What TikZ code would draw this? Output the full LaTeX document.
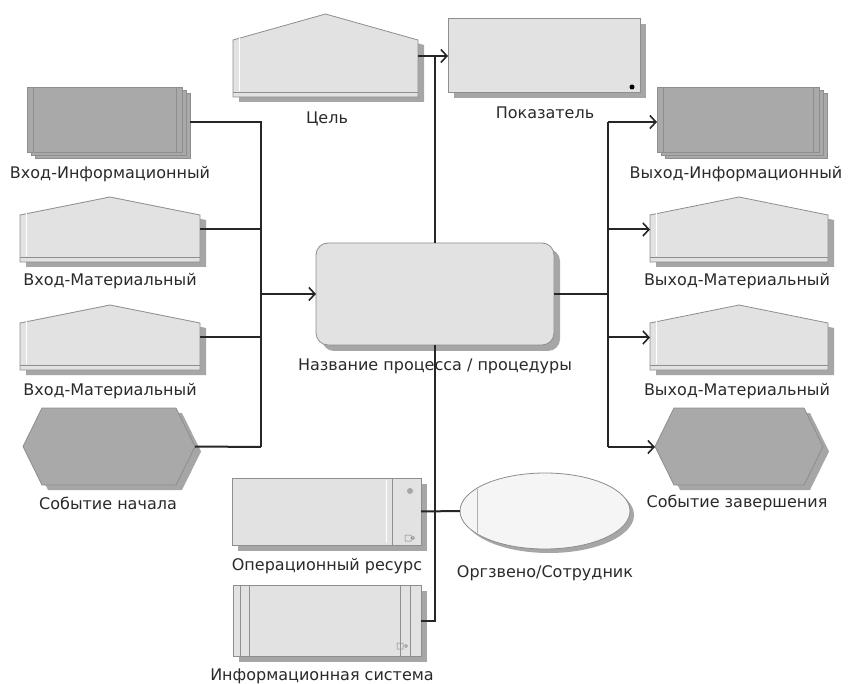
\documentclass[tikz,border=0pt]{standalone}
\usepackage{fontspec}
\setmainfont{DejaVu Sans}
\usetikzlibrary{arrows.meta,calc,shapes.geometric}
\definecolor{lightf}{HTML}{E2E2E2}
\definecolor{darkf}{HTML}{A9A9A9}
\definecolor{edgec}{HTML}{8E8E8E}
\definecolor{shadc}{HTML}{A6A6A6}
\definecolor{txtc}{HTML}{2A2A2A}
\definecolor{ellf}{HTML}{F5F5F5}
\tikzset{
  bbox/.style={inner sep=0pt,outer sep=0pt,draw=none},
  lbl/.style={text=txtc,font=\fontsize{16}{19}\selectfont,inner sep=0pt},
  conn/.style={draw=black!85,line width=2pt},
  arr/.style={conn,-{Straight Barb[length=6pt,width=13pt,line width=1.6pt]}},
  lightshape/.style={fill=lightf,draw=edgec,line width=0.8pt},
  darkshape/.style={fill=darkf,draw=edgec,line width=0.8pt},
  shd/.style={fill=shadc,draw=none},
}
% name, x1, y1, x2, y2
\newcommand{\mkbox}[5]{\node[bbox,minimum width={#4-#2},minimum height={#5-#3}] (#1) at ({(#2+#4)/2},{(#3+#5)/2}) {};}
% pentagon: name,x1,y1,x2,y2,shoulder
\newcommand{\pentshape}[6]{%
  \fill[shd] (#2+6,#5+5) -- (#4+6,#5+5) -- (#4+6,#3+#6+5) -- ({(#2+#4)/2+6},#3+5) -- (#2+6,#3+#6+5) -- cycle;
  \path[lightshape] (#2,#5) -- (#4,#5) -- (#4,#3+#6) -- ({(#2+#4)/2},#3) -- (#2,#3+#6) -- cycle;
  \draw[edgec,line width=0.6pt] (#2,#5-5) -- (#4,#5-5);
  \draw[white,line width=0.6pt] (#2+6,#3+#6-2) -- (#2+6,#5-6);
  \mkbox{#1}{#2}{#3}{#4}{#5}}
% hexagon: name,x1,y1,x2,y2,slant
\newcommand{\hexshape}[6]{%
  \fill[shd] (#2+6,{(#3+#5)/2+5}) -- (#2+#6+6,#3+5) -- (#4-#6+6,#3+5) -- (#4+6,{(#3+#5)/2+5}) -- (#4-#6+6,#5+5) -- (#2+#6+6,#5+5) -- cycle;
  \path[darkshape] (#2,{(#3+#5)/2}) -- (#2+#6,#3) -- (#4-#6,#3) -- (#4,{(#3+#5)/2}) -- (#4-#6,#5) -- (#2+#6,#5) -- cycle;
  \mkbox{#1}{#2}{#3}{#4}{#5}}
% information stack: name,x1,y1,x2,y2 (outer incl. layers)
\newcommand{\infostack}[5]{%
  \path[darkshape] (#2+8,#3+6) rectangle (#4,#5);
  \path[darkshape] (#2+4,#3+3) rectangle (#4-4,#5-3);
  \path[darkshape] (#2,#3) rectangle (#4-8,#5-6);
  \draw[edgec,line width=0.5pt] (#2+6,#3) -- (#2+6,#5-6);
  \draw[edgec,line width=0.5pt] (#4-14,#3) -- (#4-14,#5-6);
  \mkbox{#1}{#2}{#3}{#4}{#5}}
\begin{document}
\begin{tikzpicture}[x=1pt,y=-1pt]
\path[fill=white] (0,0) rectangle (851,684);
\useasboundingbox (0,0) rectangle (851,684);

% ---- Goal and KPI
\pentshape{goal}{233}{14}{418}{97}{26}
\fill[shd] (454,24) rectangle (646,98);
\path[lightshape] (448,18) rectangle (640,92);
\mkbox{kpi}{448}{18}{640}{92}
\fill[black] (632,87) circle (2.5);

% ---- Inputs
\infostack{inInfo}{27}{87}{190}{158}
\pentshape{inMatA}{20}{197}{200}{262}{18}
\pentshape{inMatB}{20}{305}{200}{370}{18}
\hexshape{startEv}{23}{408}{195}{485}{19}

% ---- Outputs
\infostack{outInfo}{657}{87}{827}{158}
\pentshape{outMatA}{650}{197}{828}{262}{18}
\pentshape{outMatB}{650}{305}{828}{370}{18}
\hexshape{endEv}{655}{408}{823}{485}{19}

% ---- Process
\fill[shd,rounded corners=12] (322,249) rectangle (560,351);
\path[lightshape,rounded corners=12] (316,243) rectangle (554,345);
\mkbox{proc}{316}{243}{554}{345}

% ---- Operational resource
\fill[shd] (238,484) rectangle (427,551);
\path[lightshape] (232,478) rectangle (421,545);
\draw[edgec,line width=0.5pt] (392,478) -- (392,545);
\draw[white,line width=0.6pt] (386,480) -- (386,543);
\fill[gray!70] (410,491) circle (3);
\draw[gray,line width=0.5pt] (405,535) rectangle (411,541) (413,538) circle (1.5);
\mkbox{opRes}{232}{478}{421}{545}

% ---- Information system
\fill[shd] (239,591) rectangle (427,662);
\path[lightshape] (233,585) rectangle (421,656);
\draw[edgec,line width=0.5pt] (240,585) -- (240,656) (249,585) -- (249,656) (400,585) -- (400,656) (410,585) -- (410,656);
\draw[gray,line width=0.5pt] (397,643) rectangle (403,649) (406,646) circle (1.5);
\mkbox{infoSys}{233}{585}{421}{656}

% ---- Org unit ellipse
\fill[shd] (549,515) ellipse [x radius=85, y radius=38];
\path[fill=ellf,draw=edgec,line width=0.8pt] (545,511) ellipse [x radius=85, y radius=38];
\draw[edgec!70,line width=0.6pt] (477,489) -- (477,533);
\node[bbox,ellipse,minimum width=170,minimum height=76] (org) at (545,511) {};

% ---- Labels
\node[lbl] (goalL) at (327,119) {Цель};
\node[lbl] (kpiL) at (545,113) {Показатель};
\node[lbl] (inInfoL) at (110,174) {Вход-Информационный};
\node[lbl] (inMatAL) at (110,281) {Вход-Материальный};
\node[lbl] (inMatBL) at (110,391) {Вход-Материальный};
\node[lbl] (startEvL) at (108,503) {Событие начала};
\node[lbl] (outInfoL) at (736,174) {Выход-Информационный};
\node[lbl] (outMatAL) at (737,281) {Выход-Материальный};
\node[lbl] (outMatBL) at (737,391) {Выход-Материальный};
\node[lbl] (endEvL) at (737,503) {Событие завершения};
\node[lbl] (procL) at (435,366) {Название процесса / процедуры};
\node[lbl] (opResL) at (327,566) {Операционный ресурс};
\node[lbl] (infoSysL) at (322,676) {Информационная система};
\node[lbl] (orgL) at (545,573) {Оргзвено/Сотрудник};

% ---- Connectors
\coordinate (lbus) at (261,294);
\coordinate (lbot) at (261,447);
\coordinate (rbus) at (608,294);
\coordinate (rtop) at (608,122);
\coordinate (rbot) at (608,447);
\coordinate (vtop) at (435,56);
\coordinate (vbot) at (435,621);

\draw[conn] (inInfo.east) -| (lbot);
\draw[conn] (startEv.east) -- (lbot);
\draw[conn] (inMatA.east) -- (inMatA.east -| lbus);
\draw[conn] (inMatB.east) -- (inMatB.east -| lbus);
\draw[arr] (lbus) -- (proc.west);

\draw[conn] (proc.east) -- (rbus);
\draw[conn] (rtop) -- (rbot);
\draw[arr] (rtop) -- (rtop -| outInfo.west);
\draw[arr] (outMatA.west -| rbus) -- (outMatA.west);
\draw[arr] (outMatB.west -| rbus) -- (outMatB.west);
\draw[arr] (rbot) -- (rbot -| endEv.west);

\draw[arr] (goal.east |- vtop) -- (vtop -| kpi.west);
\draw[conn] (vtop) -- (proc.north);
\draw[conn] (proc.south) -- (vbot) -- (vbot -| infoSys.east);
\draw[conn] (opRes.east) -- (org.west);
\end{tikzpicture}
\end{document}
